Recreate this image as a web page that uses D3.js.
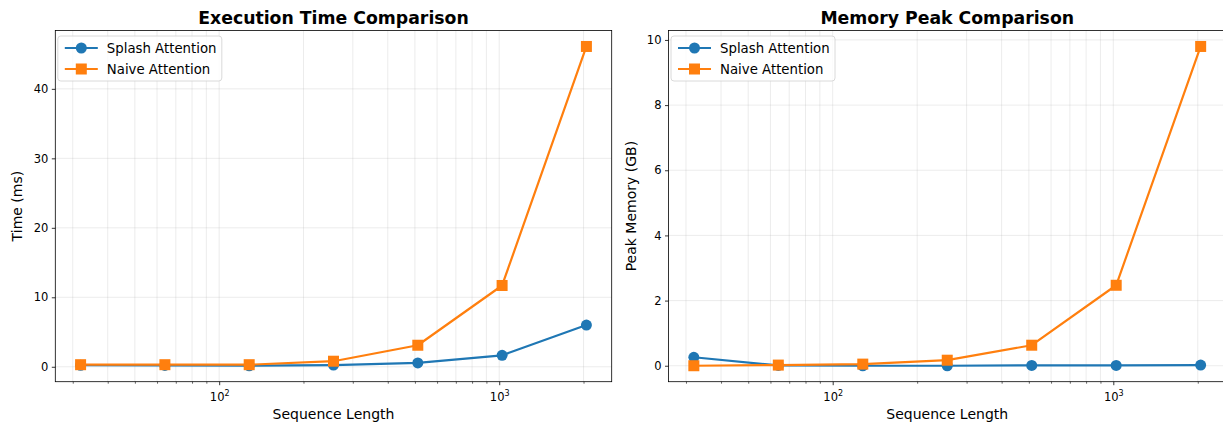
<!DOCTYPE html>
<html>
<head>
<meta charset="utf-8">
<script src="https://cdn.jsdelivr.net/npm/d3@7"></script>
<style>
  html, body { margin: 0; padding: 0; background: #fff; }
  svg { display: block; font-family: "DejaVu Sans", sans-serif; }
</style>
</head>
<body>
<svg id="chart" width="1223" height="426"></svg>
<script>
// Sequence lengths benchmarked
const seqLengths = [32, 64, 128, 256, 512, 1024, 2048];

// Execution time (ms)
const timeSplash = [0.22, 0.2, 0.15, 0.25, 0.55, 1.65, 6.0];
const timeNaive  = [0.3, 0.3, 0.3, 0.8, 3.1, 11.7, 46.1];

// Peak memory (GB)
const memSplash = [0.26, 0.01, 0.0, 0.0, 0.01, 0.01, 0.02];
const memNaive  = [0.0, 0.02, 0.05, 0.17, 0.63, 2.47, 9.8];

const seriesNames = ["Splash Attention", "Naive Attention"];
const seriesColors = ["#1f77b4", "#ff7f0e"];

const timeTicks = [0, 10, 20, 30, 40];
const memTicks = [0, 2, 4, 6, 8, 10];

const panels = [
  { title: "Execution Time Comparison", ylabel: "Time (ms)",
    series: [timeSplash, timeNaive], yTicks: timeTicks,
    left: 55.3, right: 611.7 },
  { title: "Memory Peak Comparison", ylabel: "Peak Memory (GB)",
    series: [memSplash, memNaive], yTicks: memTicks,
    left: 668.5, right: 1226 }
];

const plotTop = 30.5, plotBottom = 381.7;
const svg = d3.select("#chart");

function padded(lo, hi, frac) {
  const d = (hi - lo) * frac;
  return [lo - d, hi + d];
}

panels.forEach(p => {
  const g = svg.append("g");
  const w = p.right - p.left, h = plotBottom - plotTop;

  const lx = padded(Math.log10(d3.min(seqLengths)), Math.log10(d3.max(seqLengths)), 0.05);
  const x = d3.scaleLog().domain([10 ** lx[0], 10 ** lx[1]]).range([p.left, p.right]);
  const all = p.series.flat();
  const y = d3.scaleLinear().domain(padded(d3.min(all), d3.max(all), 0.05)).range([plotBottom, plotTop]);

  const clipId = "clip" + Math.round(p.left);
  svg.append("clipPath").attr("id", clipId)
    .append("rect").attr("x", p.left).attr("y", plotTop).attr("width", w).attr("height", h);

  // grid: x major + minor, y major
  const xAll = [];
  for (let dec = 10; dec <= 1000; dec *= 10)
    for (let k = 1; k <= 9; k++) {
      const v = dec * k;
      if (v >= x.domain()[0] && v <= x.domain()[1]) xAll.push(v);
    }
  const xMajor = xAll.filter(v => [10, 100, 1000].includes(v));
  const xMinor = xAll.filter(v => !xMajor.includes(v));

  g.append("g").selectAll("line").data(xAll).join("line")
    .attr("x1", d => x(d)).attr("x2", d => x(d))
    .attr("y1", plotTop).attr("y2", plotBottom)
    .attr("stroke", "#b0b0b0").attr("stroke-opacity", 0.3).attr("stroke-width", 0.8);
  g.append("g").selectAll("line").data(p.yTicks).join("line")
    .attr("x1", p.left).attr("x2", p.right)
    .attr("y1", d => y(d)).attr("y2", d => y(d))
    .attr("stroke", "#b0b0b0").attr("stroke-opacity", 0.3).attr("stroke-width", 0.8);

  // axes
  const xAxisMinor = d3.axisBottom(x).tickValues(xMinor).tickSize(2).tickFormat("");
  const xm = g.append("g").attr("transform", `translate(0,${plotBottom})`).call(xAxisMinor);
  xm.select(".domain").remove();
  xm.selectAll("line").attr("stroke", "#000").attr("stroke-width", 0.6);

  const xAxis = d3.axisBottom(x).tickValues(xMajor).tickSize(3.5).tickPadding(3.5).tickFormat("");
  const xa = g.append("g").attr("transform", `translate(0,${plotBottom})`).call(xAxis);
  xa.select(".domain").remove();
  xa.selectAll("line").attr("stroke", "#000").attr("stroke-width", 0.8);
  // powers-of-ten labels with raised exponent
  xa.selectAll(".tick").each(function(d) {
    const t = d3.select(this).append("text")
      .attr("y", 19.5).attr("text-anchor", "middle").attr("fill", "#000")
      .attr("font-size", 11.5).attr("font-family", "DejaVu Sans");
    t.append("tspan").text("10");
    t.append("tspan").attr("font-size", 8).attr("dy", -5)
      .text(String(Math.round(Math.log10(d))));
  });

  const yAxis = d3.axisLeft(y).tickValues(p.yTicks).tickSize(3.5).tickPadding(3.5);
  const ya = g.append("g").attr("transform", `translate(${p.left},0)`).call(yAxis);
  ya.select(".domain").remove();
  ya.selectAll("line").attr("stroke", "#000").attr("stroke-width", 0.8);
  ya.selectAll("text").attr("font-size", 11.5).attr("fill", "#000")
    .attr("font-family", "DejaVu Sans");

  // frame
  g.append("rect").attr("x", p.left).attr("y", plotTop).attr("width", w).attr("height", h)
    .attr("fill", "none").attr("stroke", "#000").attr("stroke-width", 0.8);

  // series
  const plot = g.append("g").attr("clip-path", `url(#${clipId})`);
  p.series.forEach((vals, i) => {
    const pts = seqLengths.map((s, j) => [x(s), y(vals[j])]);
    plot.append("path").attr("d", d3.line()(pts))
      .attr("fill", "none").attr("stroke", seriesColors[i]).attr("stroke-width", 2.2)
      .attr("stroke-linejoin", "round");
    if (i === 0) {
      plot.append("g").selectAll("circle").data(pts).join("circle")
        .attr("cx", d => d[0]).attr("cy", d => d[1]).attr("r", 5.5)
        .attr("fill", seriesColors[i]);
    } else {
      plot.append("g").selectAll("rect").data(pts).join("rect")
        .attr("x", d => d[0] - 5.5).attr("y", d => d[1] - 5.5)
        .attr("width", 11).attr("height", 11).attr("fill", seriesColors[i]);
    }
  });

  // title + labels
  g.append("text").attr("x", (p.left + p.right) / 2).attr("y", 23.5)
    .attr("text-anchor", "middle").attr("font-weight", "bold").attr("font-size", 17.3)
    .text(p.title);
  g.append("text").attr("x", (p.left + p.right) / 2).attr("y", 418.5)
    .attr("text-anchor", "middle").attr("font-size", 14)
    .text("Sequence Length");
  g.append("text")
    .attr("transform", `translate(${p.left - 33},${(plotTop + plotBottom) / 2}) rotate(-90)`)
    .attr("text-anchor", "middle").attr("font-size", 14)
    .text(p.ylabel);

  // legend
  const lg = g.append("g").attr("transform", `translate(${p.left + 2.5},${plotTop + 5.5})`);
  lg.append("rect").attr("width", 164).attr("height", 45).attr("rx", 3)
    .attr("fill", "#fff").attr("fill-opacity", 0.8).attr("stroke", "#d0d0d0").attr("stroke-width", 0.8);
  seriesNames.forEach((name, i) => {
    const yy = 12 + i * 21;
    const row = lg.append("g").attr("transform", `translate(0,${yy})`);
    row.append("line").attr("x1", 7).attr("x2", 40).attr("y1", 0).attr("y2", 0)
      .attr("stroke", seriesColors[i]).attr("stroke-width", 2.2);
    if (i === 0) row.append("circle").attr("cx", 23.5).attr("cy", 0).attr("r", 5.5).attr("fill", seriesColors[i]);
    else row.append("rect").attr("x", 18).attr("y", -5.5).attr("width", 11).attr("height", 11).attr("fill", seriesColors[i]);
    row.append("text").attr("x", 49).attr("y", 4.8).attr("font-size", 13.3).text(name);
  });
});
</script>
</body>
</html>
